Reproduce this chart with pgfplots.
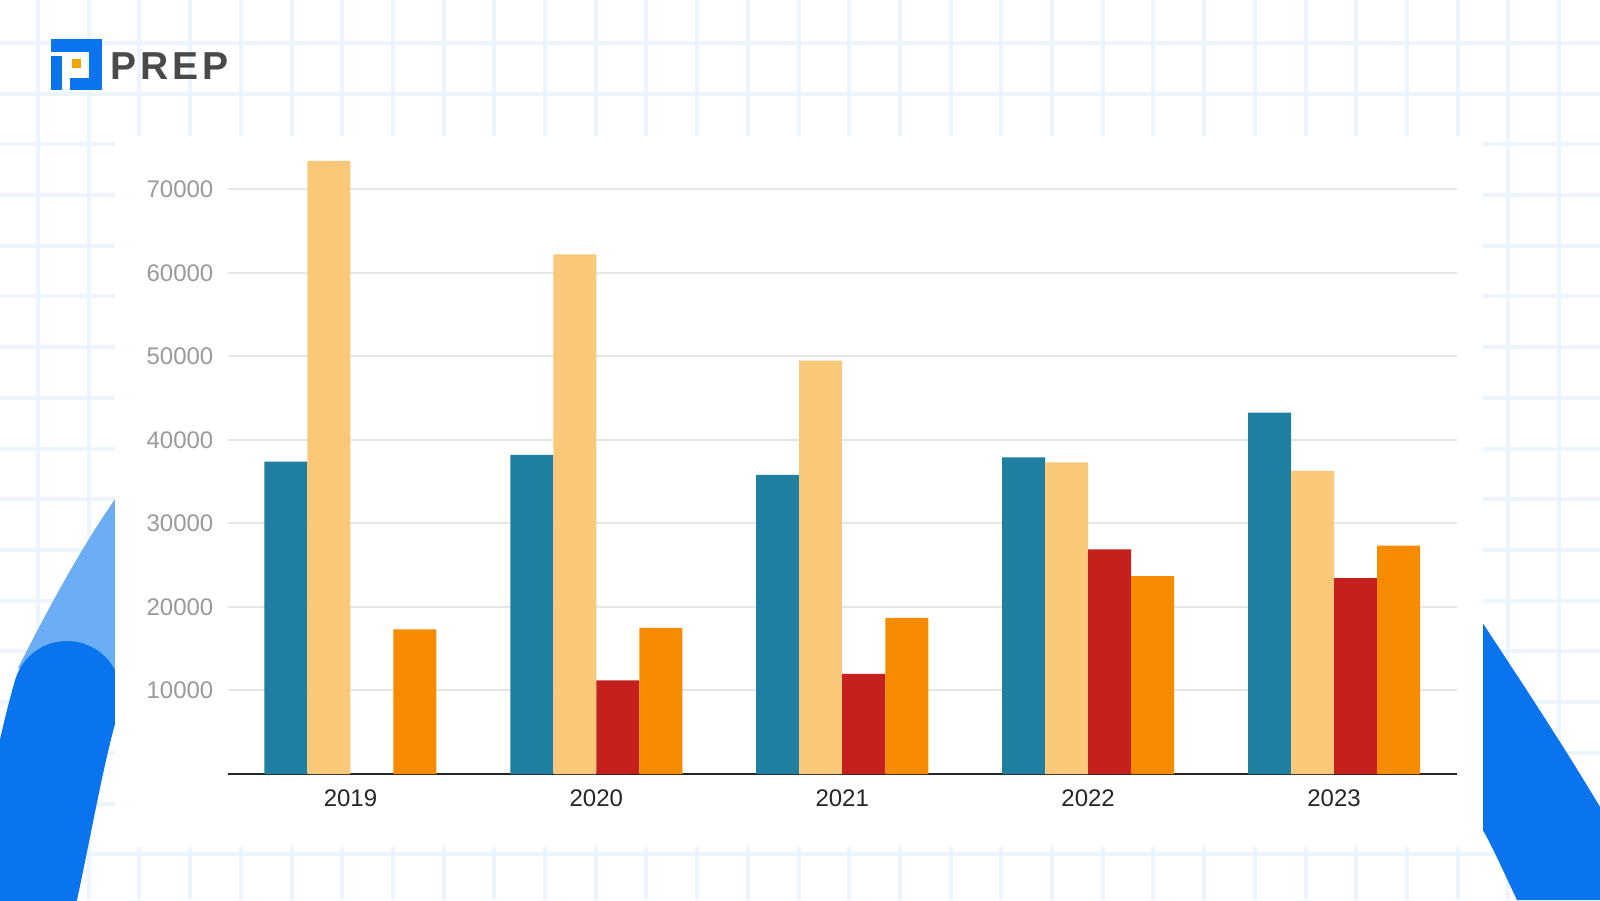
\documentclass[border=0pt]{standalone}
\usepackage{pgfplots}
\pgfplotsset{compat=1.18}
\usepackage{fontspec}
\setmainfont{Liberation Sans}
\definecolor{cteal}{HTML}{1F7FA0}
\definecolor{clight}{HTML}{F9C879}
\definecolor{cred}{HTML}{C6201E}
\definecolor{corange}{HTML}{F78B00}
\definecolor{bgline}{HTML}{ECF4FD}
\definecolor{pblue}{HTML}{0A74EE}
\definecolor{plight}{HTML}{6CAEF5}
\definecolor{porange}{HTML}{F5A100}
\definecolor{logotext}{HTML}{4A4A4A}
\definecolor{gridgray}{HTML}{E6E6E6}
\definecolor{labelgray}{HTML}{9A9A9A}
\begin{document}
\begin{tikzpicture}[x=1pt,y=1pt]
\useasboundingbox (0,0) rectangle (1600,900);
\fill[white] (0,0) rectangle (1600,900);
\begin{scope}
\clip (0,0) rectangle (1600,900);
% squared paper
\foreach \i in {0,...,31} \draw[bgline, line width=4pt] ({38+50.7*\i},0) -- ({38+50.7*\i},900);
\foreach \j in {0,...,17} \draw[bgline, line width=4pt] (0,{857-50.7*\j}) -- (1600,{857-50.7*\j});
% blue arcs
\fill[plight] (125,415) .. controls (85,360) and (50,295) .. (18,232) -- (125,200) -- cycle;
\draw[pblue, line width=108pt, line cap=round] (67,205) .. controls (48,140) and (36,60) .. (15,-30);
\fill[pblue] (1470,295) -- (1484,275) .. controls (1520,220) and (1560,160) .. (1600,93) -- (1600,0) -- (1517,0) .. controls (1505,25) and (1495,48) .. (1484,68) -- (1470,90) -- cycle;
\end{scope}
% card
\fill[white] (115,53) rectangle (1483,764);
% logo
\fill[pblue] (51,848) rectangle (102,861);
\fill[pblue] (89,810) rectangle (102,861);
\fill[pblue] (70,810) rectangle (102,822);
\fill[pblue] (51,810) rectangle (62,844);
\fill[porange] (72,832) rectangle (81,841);
\node[anchor=base west, inner sep=0pt, text=logotext, font=\fontsize{39}{39}\selectfont\bfseries] at (110,820) {P\kern4ptR\kern4ptE\kern4ptP};
\begin{axis}[
  at={(227.5pt,126pt)}, anchor=south west, scale only axis,
  width=1229.5pt, height=626.5pt,
  xmin=-0.5, xmax=4.5, ymin=0, ymax=75000,
  ybar=0pt, bar width=43pt,
  xtick={0,...,4}, xticklabels={2019,2020,2021,2022,2023},
  ytick={10000,20000,...,70000},
  ymajorgrids, grid style={draw=gridgray, line width=2pt},
  axis x line*=bottom, axis y line*=left,
  x axis line style={draw=black!85, line width=2pt},
  y axis line style={draw=none},
  major tick length=0pt,
  scaled y ticks=false,
  yticklabel style={/pgf/number format/1000 sep={}, /pgf/number format/assume math mode=true,
    font=\fontsize{24}{24}\selectfont, text=labelgray, anchor=east, inner sep=0pt, xshift=-14pt},
  xticklabel style={font=\fontsize{24}{24}\selectfont, text=black!85, anchor=north, inner sep=0pt, yshift=-15.5pt},
]
\addplot[fill=cteal, draw=none] coordinates {(0,37400) (1,38200) (2,35800) (3,37900) (4,43250)};
\addplot[fill=clight, draw=none] coordinates {(0,73400) (1,62200) (2,49500) (3,37300) (4,36300)};
\addplot[fill=cred, draw=none] coordinates {(1,11200) (2,12000) (3,26900) (4,23450)};
\addplot[fill=corange, draw=none] coordinates {(0,17300) (1,17500) (2,18700) (3,23700) (4,27350)};
\end{axis}
\end{tikzpicture}
\end{document}
